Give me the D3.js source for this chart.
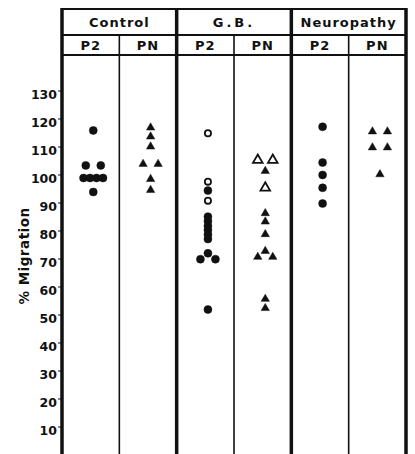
<!DOCTYPE html>
<html>
<head>
<meta charset="utf-8">
<script src="https://cdn.jsdelivr.net/npm/d3@7"></script>
<style>
  body { margin: 0; background: #fff; }
  text { font-family: "DejaVu Sans", sans-serif; font-weight: bold; fill: #111; }
</style>
</head>
<body>
<svg id="chart" width="415" height="454"></svg>
<script>
// groups and sub columns
const groups = ["Control", "G.B.", "Neuropathy"];
const subs = ["P2", "PN"];
const yTicks = [10, 20, 30, 40, 50, 60, 70, 80, 90, 100, 110, 120, 130];

// % migration, one array per column
const controlP2 = [117, 104.5, 104.5, 100, 100, 100, 100, 95];
const controlPN = [118, 114.8, 111.2, 105, 105, 99.6, 95.7];
const gbP2 = [95.5, 86.2, 84.6, 82.9, 81.4, 79.8, 78.2, 73.1, 71, 71, 53];
const gbP2Open = [116, 98.7, 91.9];
const gbPN = [102.5, 87.4, 84.4, 79.9, 73.9, 71.8, 71.8, 56.8, 53.5];
const gbPNOpen = [106.4, 106.4, 96.5];
const neuroP2 = [118.3, 105.5, 101.1, 96.5, 90.9];
const neuroPN = [116.6, 116.6, 110.9, 110.9, 101.3];

const series = [
    { group: "Control", sub: "P2", values: controlP2, shape: "circle", open: false },
    { group: "Control", sub: "PN", values: controlPN, shape: "triangle", open: false },
    { group: "G.B.", sub: "P2", values: gbP2, shape: "circle", open: false },
    { group: "G.B.", sub: "P2", values: gbP2Open, shape: "circle", open: true },
    { group: "G.B.", sub: "PN", values: gbPN, shape: "triangle", open: false },
    { group: "G.B.", sub: "PN", values: gbPNOpen, shape: "triangle", open: true },
    { group: "Neuropathy", sub: "P2", values: neuroP2, shape: "circle", open: false },
    { group: "Neuropathy", sub: "PN", values: neuroPN, shape: "triangle", open: false }
];

const svg = d3.select("#chart");
const leftX = 62, rightX = 406, topY = 9;

const columns = [];
groups.forEach(g => subs.forEach(s => columns.push(g + "|" + s)));

const x = d3.scaleBand().domain(columns).range([leftX, rightX]);
const xGroup = d3.scaleBand().domain(groups).range([leftX, rightX]);
const y = d3.scaleLinear().domain([10, 130]).range([430, 94]);

// header lines
[topY, 35, 55].forEach(yy => {
    svg.append("line")
        .attr("x1", leftX).attr("x2", rightX)
        .attr("y1", yy).attr("y2", yy)
        .attr("stroke", "#111").attr("stroke-width", 2);
});

// thin dividers between P2 and PN
groups.forEach(g => {
    let xx = x(g + "|PN");
    svg.append("line")
        .attr("x1", xx).attr("x2", xx)
        .attr("y1", 35).attr("y2", 454)
        .attr("stroke", "#111").attr("stroke-width", 1.6);
});

// thick group borders
groups.concat(["end"]).forEach((g, i) => {
    let xx = i < groups.length ? xGroup(g) : rightX;
    svg.append("line")
        .attr("x1", xx).attr("x2", xx)
        .attr("y1", topY - 1).attr("y2", 454)
        .attr("stroke", "#111").attr("stroke-width", 3.5);
});

// group titles
svg.selectAll(".gtitle").data(groups).enter().append("text")
    .attr("x", d => xGroup(d) + xGroup.bandwidth() / 2)
    .attr("y", 27)
    .attr("text-anchor", "middle")
    .attr("font-size", 13)
    .attr("letter-spacing", d => d === "G.B." ? 3 : 1)
    .text(d => d);

// sub titles
svg.selectAll(".stitle").data(columns).enter().append("text")
    .attr("x", d => x(d) + x.bandwidth() / 2)
    .attr("y", 50)
    .attr("text-anchor", "middle")
    .attr("font-size", 13)
    .attr("letter-spacing", 1)
    .text(d => d.split("|")[1]);

// y ticks
svg.selectAll(".tick").data(yTicks).enter().append("text")
    .attr("x", 57)
    .attr("y", d => y(d) + 4.5)
    .attr("text-anchor", "end")
    .attr("font-size", 12.5)
    .text(d => d);

svg.selectAll(".tickmark").data(yTicks).enter().append("line")
    .attr("x1", 58).attr("x2", leftX)
    .attr("y1", d => y(d) - 3).attr("y2", d => y(d) - 3)
    .attr("stroke", "#111").attr("stroke-width", 1);

// axis title
svg.append("text")
    .attr("transform", "translate(29,256) rotate(-90)")
    .attr("text-anchor", "middle")
    .attr("font-size", 13.5)
    .attr("letter-spacing", 0.5)
    .text("% Migration");

// spread equal values side by side
function dodge(values) {
    let counts = {};
    values.forEach(v => counts[v] = (counts[v] || 0) + 1);
    let seen = {};
    return values.map(v => {
        let n = counts[v];
        let i = seen[v] || 0;
        seen[v] = i + 1;
        let gap = n === 2 ? 15 : 6.5;
        return { v: v, dx: (i - (n - 1) / 2) * gap };
    });
}

const circleSym = d3.symbol().type(d3.symbolCircle);
const triSym = d3.symbol().type(d3.symbolTriangle);

series.forEach(s => {
    let cx = x(s.group + "|" + s.sub) + x.bandwidth() / 2 + 2.6;
    let pts = dodge(s.values);
    let sym = s.shape === "circle"
        ? circleSym.size(s.open ? 30 : 50)
        : triSym.size(s.open ? 40 : 30);
    svg.selectAll(null).data(pts).enter().append("path")
        .attr("d", sym())
        .attr("transform", d => `translate(${cx + d.dx},${y(d.v)})`)
        .attr("fill", s.open ? "#fff" : "#111")
        .attr("stroke", "#111")
        .attr("stroke-width", s.open ? 1.8 : 0.5);
});
</script>
</body>
</html>
